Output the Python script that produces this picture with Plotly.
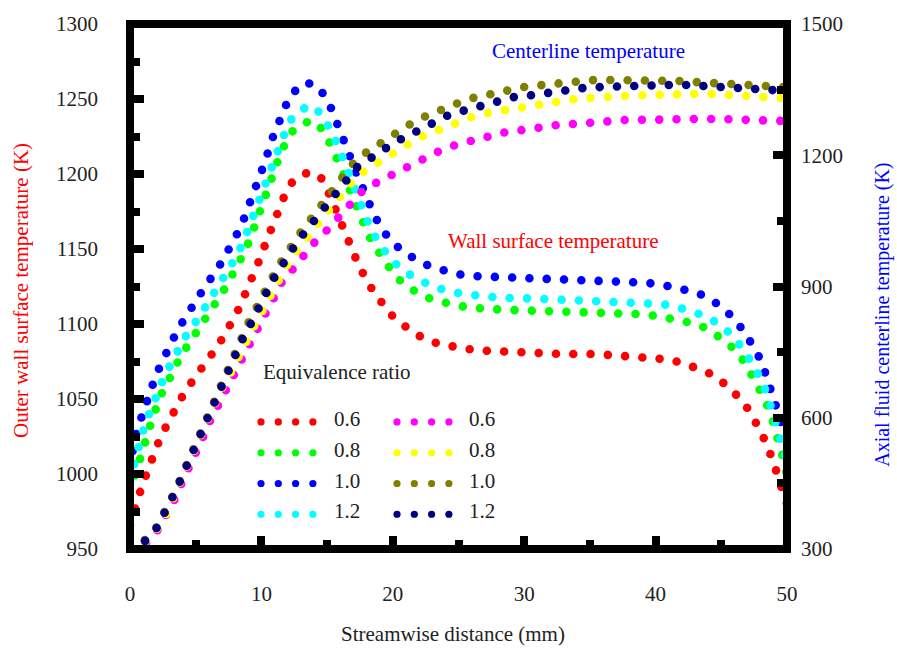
import plotly.graph_objects as go

# ---------------- data ----------------
ratios = ["0.6", "0.8", "1.0", "1.2"]

# Outer wall surface temperature (K), left axis
x_wall_06 = [0, 0.38, 0.84, 1.29, 1.67, 2.21, 2.82, 3.35, 4.03, 4.79, 5.56, 6.32, 7.08, 7.76, 8.37, 8.9,
             9.44, 9.89, 10.35, 10.81, 11.26, 11.8, 12.4, 13.62, 14.69, 15.22, 15.75, 16.36, 16.89, 17.43,
             18.04, 18.65, 19.25, 20.0, 21.16, 22.3, 23.6, 24.9, 26.3, 27.55, 30.2, 32.9, 35.5, 38.1, 39.4,
             40.8, 42.1, 43.3, 44.4, 45.4, 46.35, 47.2, 47.9, 48.4, 48.9, 49.3, 49.7, 50]
T_wall_06 = [966, 979, 990, 1001, 1011.5, 1022, 1033, 1042, 1052.5, 1062.5, 1071, 1081, 1091, 1101.5, 1111.5,
             1123, 1133, 1143.5, 1154.5, 1166, 1176, 1186.5, 1195.5, 1201.5, 1196.5, 1186, 1174.5, 1162.5,
             1150, 1138.5, 1128, 1119.5, 1113.5, 1105, 1097, 1090.5, 1086.5, 1084, 1082.5, 1082, 1080.5, 1080,
             1080, 1078.5, 1077, 1076.5, 1074, 1070.5, 1066, 1059, 1051, 1041.5, 1031, 1021, 1009.5, 998.5,
             987.5, 980]

x_wall_08 = [0, 0.15, 0.46, 0.84, 1.22, 1.67, 2.13, 2.59, 3.2, 3.81, 4.49, 5.25, 5.94, 6.62, 7.31, 7.99,
             8.6, 9.13, 9.59, 10.05, 10.5, 10.88, 11.34, 11.87, 12.48, 13.77, 14.76, 15.37, 15.83, 16.36,
             16.82, 17.35, 17.88, 18.42, 19.03, 19.79, 20.7, 21.84, 23.06, 24.43, 25.72, 28.39, 31.05, 33.71,
             36.38, 39.04, 40.33, 41.55, 42.85, 44.06, 45.05, 46.12, 46.88, 47.56, 48.17, 48.71, 49.09, 49.47,
             49.77, 50]
T_wall_08 = [988, 992.5, 1003.5, 1015, 1025.5, 1036, 1047.5, 1057.5, 1066.5, 1078, 1087, 1096.5, 1105.5,
             1115.5, 1125, 1135.5, 1146, 1156.5, 1167, 1178.5, 1189, 1199.5, 1211, 1221.5, 1230, 1236, 1229,
             1219, 1208.5, 1197.5, 1187, 1176, 1165, 1154.5, 1145.5, 1137, 1127.5, 1121, 1116, 1113, 1111,
             1109.5, 1109, 1108.5, 1107.5, 1106.5, 1105, 1103, 1100.5, 1096.5, 1090.5, 1082.5, 1073, 1063,
             1052, 1041.5, 1031, 1019.5, 1008.5, 999]

x_wall_10 = [0, 0.3, 0.68, 1.07, 1.52, 1.98, 2.51, 3.04, 3.65, 4.34, 5.02, 5.78, 6.62, 7.31, 7.91, 8.52,
             8.98, 9.44, 9.89, 10.35, 10.73, 11.19, 11.64, 12.18, 13.32, 14.23, 15.07, 15.6, 16.13, 16.51,
             16.97, 17.43, 17.96, 18.49, 19.1, 19.94, 20.93, 22.22, 23.44, 24.73, 26.03, 28.69, 31.35, 34.02,
             36.6, 39.27, 40.56, 41.93, 43.15, 44.29, 45.28, 46.19, 46.96, 47.64, 48.17, 48.63, 49.09, 49.39,
             49.77, 50]
T_wall_10 = [1004, 1021.5, 1033, 1043.5, 1054.5, 1066, 1076, 1086.5, 1096.5, 1106, 1116, 1126, 1136, 1146,
             1156, 1166.5, 1177, 1188.5, 1199, 1210, 1221.5, 1232, 1242.5, 1252.5, 1261, 1259, 1249, 1238.5,
             1228, 1217, 1206, 1195.5, 1185, 1174.5, 1164, 1154.5, 1147.5, 1140.5, 1137, 1133.5, 1132, 1131,
             1130, 1129.5, 1129, 1127.5, 1126, 1124, 1121, 1116, 1109.5, 1101.5, 1092.5, 1082.5, 1072,
             1060.5, 1050, 1039, 1027.5, 1019]

x_wall_12 = [0, 0.15, 0.3, 0.76, 1.14, 1.6, 2.05, 2.59, 3.2, 3.81, 4.41, 5.18, 5.86, 6.62, 7.31, 7.99,
             8.6, 9.06, 9.59, 10.05, 10.43, 10.88, 11.34, 11.87, 12.4, 13.62, 14.61, 15.3, 15.83, 16.29,
             16.74, 17.2, 17.66, 18.19, 18.8, 19.56, 20.4, 21.54, 22.83, 24.12, 25.42, 28.08, 30.67, 33.33,
             36.0, 38.58, 39.95, 41.25, 42.54, 43.76, 44.9, 45.81, 46.73, 47.41, 48.1, 48.55, 48.93, 49.32,
             49.62, 50]
T_wall_12 = [995.5, 1000.5, 1011, 1021.5, 1033, 1043.5, 1054, 1064.5, 1075, 1085, 1094.5, 1103.5, 1113,
             1123, 1133.5, 1143.5, 1154, 1165, 1176, 1186.5, 1197.5, 1208.5, 1219, 1229.5, 1238.5, 1246,
             1240, 1229.5, 1219, 1208.5, 1197.5, 1187, 1176.5, 1166, 1156, 1146.5, 1138.5, 1131.5, 1126,
             1122, 1120, 1117.5, 1117, 1116, 1115.5, 1115, 1113.5, 1112.5, 1109.5, 1105.5, 1099.5, 1092.5,
             1082.5, 1072.5, 1062, 1051.5, 1040.5, 1030, 1019.5, 1008]

# Axial fluid centerline temperature (K), right axis
x_core_06 = [0, 1.14, 2.05, 2.74, 3.35, 3.88, 4.49, 5.02, 5.56, 6.09, 6.7, 7.23, 7.84, 8.45, 9.06, 9.74,
             10.35, 10.96, 11.57, 12.4, 13.17, 14.0, 14.99, 15.91, 16.67, 17.66, 18.8, 19.94, 21.16, 22.3,
             23.59, 24.81, 26.1, 27.4, 28.69, 29.98, 31.35, 32.65, 34.02, 35.31, 36.61, 37.9, 39.27, 40.56,
             41.93, 43.23, 44.6, 45.89, 47.18, 48.48, 49.62, 50]
T_core_06 = [300, 311, 341, 375, 411, 447.5, 484, 518, 556.5, 593, 629, 665.5, 699.5, 736, 770, 804,
             840.5, 874.5, 911, 940, 970, 999.5, 1029, 1060.5, 1088, 1117.5, 1138, 1156, 1176.5, 1194.5,
             1210.5, 1224, 1235.5, 1244.5, 1253.5, 1258, 1265, 1269.5, 1272, 1276.5, 1278.5, 1281, 1281,
             1283, 1283, 1283, 1283, 1283, 1281, 1281, 1278.5, 1278]

x_core_08 = [0, 1.07, 2.05, 2.74, 3.27, 3.81, 4.34, 4.87, 5.4, 5.94, 6.47, 7.0, 7.61, 8.14, 8.83, 9.36,
             9.97, 10.58, 11.19, 11.87, 12.63, 13.39, 14.23, 15.07, 15.91, 16.67, 17.66, 18.72, 19.86, 21.08,
             22.22, 23.52, 24.81, 26.03, 27.25, 28.61, 29.91, 31.2, 32.5, 33.87, 35.16, 36.45, 37.82, 39.12,
             40.49, 41.78, 43.07, 44.37, 45.74, 47.03, 48.4, 49.62, 50]
T_core_08 = [300, 313.5, 345.5, 379.5, 416, 450, 486, 522.5, 561, 597.5, 634, 668, 699.5, 733.5, 768, 804,
             838, 874.5, 911, 945, 979, 1010.5, 1040, 1072, 1101.5, 1131, 1160.5, 1181, 1201.5, 1224, 1242.5,
             1258, 1274, 1287.5, 1297, 1303.5, 1312.5, 1317.5, 1324, 1328.5, 1331, 1335.5, 1335.5, 1337.5,
             1340, 1340, 1340, 1340, 1337.5, 1335.5, 1335.5, 1331, 1330]

x_core_10 = [0, 0.99, 1.98, 2.66, 3.2, 3.73, 4.26, 4.79, 5.25, 5.78, 6.32, 6.77, 7.31, 7.84, 8.45, 8.98,
             9.59, 10.2, 10.81, 11.49, 12.18, 12.94, 13.7, 14.54, 15.37, 16.13, 16.89, 17.96, 18.95, 20.09,
             21.23, 22.37, 23.59, 24.81, 26.1, 27.4, 28.69, 29.98, 31.35, 32.65, 34.02, 35.31, 36.61, 37.9,
             39.27, 40.56, 41.93, 43.23, 44.6, 45.89, 47.18, 48.48, 49.77, 50]
T_core_10 = [300, 316, 347.5, 381.5, 418, 452, 488.5, 525, 563.5, 599.5, 636, 672.5, 708.5, 745, 779, 815.5,
             849.5, 888, 920, 956, 990.5, 1022, 1051.5, 1085.5, 1115, 1147, 1178.5, 1206, 1226.5, 1249,
             1269.5, 1287.5, 1303.5, 1317.5, 1331, 1340, 1349, 1356, 1360.5, 1365, 1367, 1372, 1372, 1372,
             1372, 1369.5, 1369.5, 1367, 1365, 1362.5, 1360.5, 1358, 1356, 1355.5]

x_core_12 = [0, 0.99, 1.98, 2.66, 3.2, 3.73, 4.26, 4.79, 5.25, 5.86, 6.32, 6.85, 7.38, 7.91, 8.52, 9.13,
             9.67, 10.35, 10.88, 11.57, 12.33, 13.09, 13.85, 14.69, 15.53, 16.36, 17.12, 18.26, 19.41, 20.55,
             21.77, 22.98, 24.12, 25.34, 26.64, 27.93, 29.22, 30.59, 31.89, 33.18, 34.47, 35.84, 37.14, 38.51,
             39.8, 41.1, 42.39, 43.68, 45.05, 46.35, 47.72, 49.09, 50]
T_core_12 = [300, 313.5, 345.5, 379.5, 416, 450, 486, 522.5, 561, 597.5, 634, 670, 702, 743, 777, 811,
             847, 883.5, 915.5, 951.5, 983.5, 1015.5, 1042.5, 1074.5, 1104, 1138, 1169.5, 1194.5, 1215,
             1235.5, 1256, 1274, 1290, 1301.5, 1312.5, 1324, 1333, 1337.5, 1344.5, 1351.5, 1353.5, 1356,
             1358, 1360.5, 1360.5, 1360.5, 1360.5, 1358, 1358, 1356, 1351.5, 1349, 1347]

wall_series = [(x_wall_06, T_wall_06), (x_wall_08, T_wall_08), (x_wall_10, T_wall_10), (x_wall_12, T_wall_12)]
core_series = [(x_core_06, T_core_06), (x_core_08, T_core_08), (x_core_10, T_core_10), (x_core_12, T_core_12)]
wall_colors = ["#ff0000", "#00ff00", "#0000ff", "#00ffff"]
core_colors = ["#ff00ff", "#ffff00", "#808000", "#000080"]

# ---------------- layout geometry (pixels) ----------------
FIG_W, FIG_H = 897, 651
L, R, T, B = 130, 787, 20, 549
SERIF = "Liberation Serif, Times New Roman, serif"
INK = "#222222"
DOT = 8.6       # dot diameter
GAP = 17.3      # spacing of dots along each curve


def pxx(x):
    return (x - L) / (R - L)


def pxy(y):
    return (B - y) / (B - T)


fig = go.Figure()

for (xs, ts), col, r in zip(wall_series, wall_colors, ratios):
    fig.add_trace(go.Scatter(x=xs, y=ts, mode="lines", name="wall " + r, yaxis="y",
                             line=dict(color=col, width=DOT, dash="0px,%spx" % GAP),
                             showlegend=False, hoverinfo="skip"))
for (xs, ts), col, r in zip(core_series, core_colors, ratios):
    fig.add_trace(go.Scatter(x=xs, y=ts, mode="lines", name="centerline " + r, yaxis="y2",
                             line=dict(color=col, width=DOT, dash="0px,%spx" % GAP),
                             showlegend=False, hoverinfo="skip"))

tickfont = dict(family=SERIF, size=21, color=INK)

fig.update_layout(
    width=FIG_W, height=FIG_H,
    margin=dict(l=L, r=FIG_W - R, t=T, b=FIG_H - B, pad=0),
    paper_bgcolor="white", plot_bgcolor="white",
    showlegend=False,
    xaxis=dict(range=[0, 50], tick0=0, dtick=10, ticks="inside", ticklen=13, tickwidth=8,
               tickcolor="black", showgrid=False, zeroline=False, showline=False,
               tickfont=tickfont, ticklabelstandoff=30,
               minor=dict(dtick=5, tick0=0, ticks="inside", ticklen=9, tickwidth=8,
                          tickcolor="black", showgrid=False)),
    yaxis=dict(range=[950, 1300], tick0=950, dtick=50, ticks="inside", ticklen=14, tickwidth=8,
               tickcolor="black", showgrid=False, zeroline=False, showline=False,
               tickfont=tickfont, ticklabelstandoff=31,
               minor=dict(dtick=25, tick0=950, ticks="inside", ticklen=10, tickwidth=8,
                          tickcolor="black", showgrid=False)),
    yaxis2=dict(range=[300, 1500], tick0=300, dtick=300, overlaying="y", side="right",
                ticks="inside", ticklen=14, tickwidth=8, tickcolor="black", showgrid=False,
                zeroline=False, showline=False, tickfont=tickfont, ticklabelstandoff=13,
                minor=dict(dtick=150, tick0=300, ticks="inside", ticklen=10, tickwidth=8,
                           tickcolor="black", showgrid=False)),
)

# heavy frame around the plotting area
shapes = [dict(type="rect", xref="paper", yref="paper", x0=0, x1=1, y0=0, y1=1,
               line=dict(color="black", width=8), layer="above")]

annotations = []


def add_text(text, x, y, color=INK, anchor="center", angle=0, size=21):
    annotations.append(dict(text=text, x=pxx(x), y=pxy(y), xref="paper", yref="paper",
                            xanchor=anchor, yanchor="middle", showarrow=False, textangle=angle,
                            font=dict(family=SERIF, size=size, color=color)))


# axis titles
add_text("Outer wall surface temperature (K)", 21, 289, color="#ff0000", angle=-90)
add_text("Axial fluid centerline temperature (K)", 883, 313, color="#0000ff", angle=-90, size=20)
add_text("Streamwise distance (mm)", 453, 635)

# curve-group labels
add_text("Centerline temperature", 588, 47, color="#0000ff")
add_text("Wall surface temperature", 553, 239, color="#ff0000")

# two-column key: wall (left column) and centerline (right column)
add_text("Equivalence ratio", 337, 371)
row_y = [421, 452, 483, 514]
columns = [(261, 332, wall_colors), (397, 467, core_colors)]
for dot_x0, label_x, colors in columns:
    for ry, col, r in zip(row_y, colors, ratios):
        for k in range(4):
            shapes.append(dict(type="circle", xref="paper", yref="paper",
                               xsizemode="pixel", ysizemode="pixel",
                               xanchor=pxx(dot_x0 + k * GAP), yanchor=pxy(ry),
                               x0=-3.6, x1=3.6, y0=-3.6, y1=3.6,
                               fillcolor=col, line=dict(width=0), layer="above"))
        add_text(r, label_x, ry - 3, anchor="left")

fig.update_layout(shapes=shapes, annotations=annotations)

# round line caps turn the zero-length dashes into round dots
round_caps = """
var gd = document.getElementById('{plot_id}');
function roundCaps() {
  gd.querySelectorAll('.scatterlayer path.js-line').forEach(function (p) {
    p.style.strokeLinecap = 'round';
  });
}
roundCaps();
gd.on('plotly_afterplot', roundCaps);
"""

fig.write_html("out.html", config={"displayModeBar": False}, post_script=round_caps)
